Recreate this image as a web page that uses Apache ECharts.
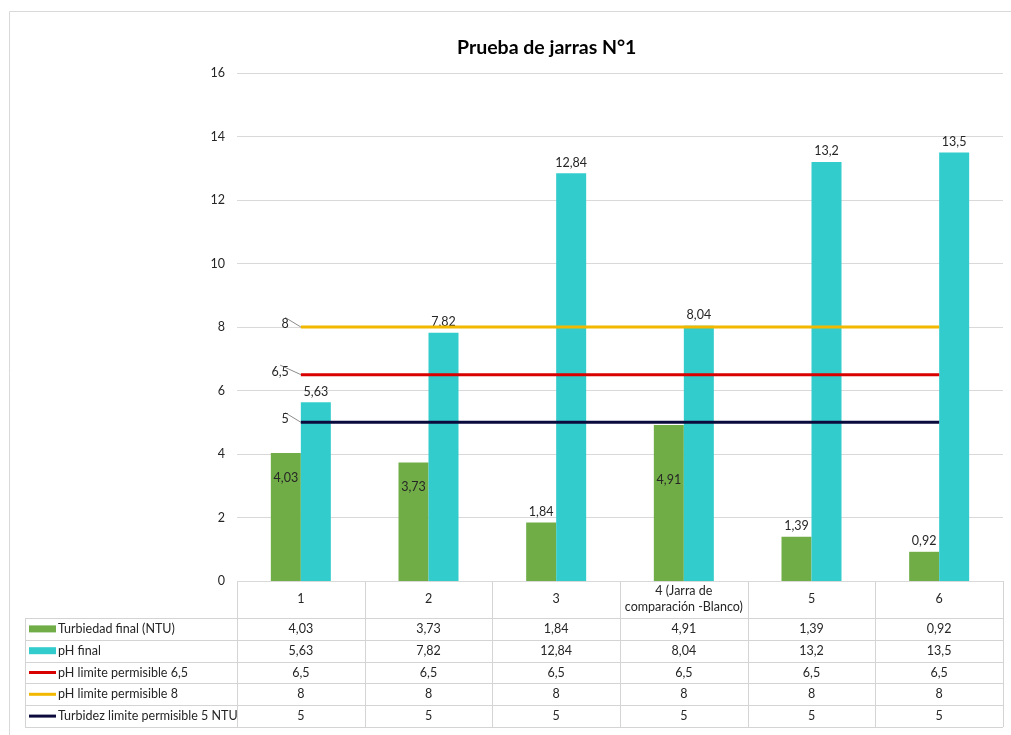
<!DOCTYPE html>
<html><head><meta charset="utf-8">
<script src="https://cdn.jsdelivr.net/npm/echarts@6/dist/echarts.min.js"></script>
<style>html,body{margin:0;padding:0;background:#fff}#c{width:1011px;height:735px}</style>
</head><body><div id="c"></div>
<script>
const categories = ['1', '2', '3', '4 (Jarra de\ncomparación -Blanco)', '5', '6'];
const turbiedad = [4.03, 3.73, 1.84, 4.91, 1.39, 0.92];
const phFinal = [5.63, 7.82, 12.84, 8.04, 13.2, 13.5];
const phLim65 = [6.5, 6.5, 6.5, 6.5, 6.5, 6.5];
const phLim8 = [8, 8, 8, 8, 8, 8];
const turbLim5 = [5, 5, 5, 5, 5, 5];
const seriesNames = ['Turbiedad final (NTU)', 'pH final', 'pH limite permisible 6,5', 'pH limite permisible 8', 'Turbidez limite permisible 5 NTU'];
const yTicks = { min: 0, max: 16, interval: 2 };

const FONT = 'Lato';
const TXT = '#262626';
const colors = ['#70AD47', '#33CCCC', '#D90000', '#F2B800', '#0A0A3C'];
const fmt = v => String(v).replace('.', ',');

const W = 1011, H = 735;
const G = { left: 237, right: 8, top: 73, bottom: 154 };
const plotBottom = H - G.bottom;
const headerH = 37, rowH = 21.8, tableLeft = 25;

const turbLabelPos = [
  { position: 'insideTop', distance: 18 },
  { position: 'insideTop', distance: 18 },
  { position: 'top', distance: 4 },
  { position: 'insideTop', distance: 48 },
  { position: 'top', distance: 4 },
  { position: 'top', distance: 4 }
];

const chart = echarts.init(document.getElementById('c'));

function lineSeries(name, data, color) {
  return {
    name, type: 'line', symbol: 'circle', symbolSize: 0, showSymbol: true,
    data: data.map((v, i) => i === 0 ? {
      value: v,
      label: { show: true, position: 'left', distance: 12, formatter: p => fmt(p.value), color: TXT, fontFamily: FONT, fontSize: 12.5 }
    } : v),
    labelLine: { show: true, lineStyle: { color: '#8C8C8C', width: 1 }, length2: 0 },
    labelLayout: { dy: -3 },
    lineStyle: { color, width: 3 }, itemStyle: { color }, z: 5
  };
}

const allData = [turbiedad, phFinal, phLim65, phLim8, turbLim5];
const graphics = [];
const colW = (W - G.left - G.right) / categories.length;
const x0 = G.left, x1 = W - G.right;
const lineC = '#D4D4D4';
const tableTop = plotBottom + headerH;
const tableBottom = tableTop + rowH * allData.length;
graphics.push({ type: 'rect', shape: { x: 9.5, y: 11.5, width: W - 8, height: H }, style: { fill: 'none', stroke: '#D9D9D9', lineWidth: 1 }, silent: true });
for (let i = 0; i <= categories.length; i++) {
  const x = Math.round(x0 + i * colW) + 0.5;
  graphics.push({ type: 'line', shape: { x1: x, y1: plotBottom, x2: x, y2: tableBottom }, style: { stroke: lineC, lineWidth: 1 } });
}
graphics.push({ type: 'line', shape: { x1: tableLeft + 0.5, y1: tableTop, x2: tableLeft + 0.5, y2: tableBottom }, style: { stroke: lineC, lineWidth: 1 } });
for (let r = 0; r <= allData.length; r++) {
  const y = Math.round(tableTop + r * rowH) + 0.5;
  graphics.push({ type: 'line', shape: { x1: tableLeft, y1: y, x2: x1, y2: y }, style: { stroke: lineC, lineWidth: 1 } });
}
allData.forEach((arr, r) => {
  const cy = tableTop + r * rowH + rowH / 2;
  if (r < 2) {
    graphics.push({ type: 'rect', shape: { x: tableLeft + 4, y: cy - 3.5, width: 27, height: 7 }, style: { fill: colors[r] } });
  } else {
    graphics.push({ type: 'line', shape: { x1: tableLeft + 4, y1: cy, x2: tableLeft + 31, y2: cy }, style: { stroke: colors[r], lineWidth: 3 } });
  }
  graphics.push({ type: 'text', style: { x: tableLeft + 33, y: cy, text: seriesNames[r], fill: TXT, font: '12.5px ' + FONT, verticalAlign: 'middle', align: 'left' } });
  arr.forEach((v, i) => {
    graphics.push({ type: 'text', style: { x: x0 + (i + 0.5) * colW, y: cy, text: fmt(v), fill: TXT, font: '12.5px ' + FONT, verticalAlign: 'middle', align: 'center' } });
  });
});

chart.setOption({
  animation: false,
  backgroundColor: '#fff',
  title: { text: 'Prueba de jarras N°1', left: 452, top: 33, textStyle: { fontFamily: FONT, fontWeight: 'bold', fontSize: 19.5, color: '#000' } },
  legend: { show: false },
  grid: G,
  xAxis: {
    type: 'category', data: categories, boundaryGap: true,
    axisLine: { show: false }, axisTick: { show: false },
    axisLabel: { margin: 18, verticalAlign: 'middle', color: TXT, fontFamily: FONT, fontSize: 12.5, lineHeight: 16, interval: 0 }
  },
  yAxis: {
    type: 'value', min: yTicks.min, max: yTicks.max, interval: yTicks.interval,
    axisLine: { show: false }, axisTick: { show: false },
    axisLabel: { margin: 12, color: TXT, fontFamily: FONT, fontSize: 12.5 },
    splitLine: { lineStyle: { color: '#D9D9D9', width: 1 } }
  },
  series: [
    {
      name: seriesNames[0], type: 'bar', barWidth: '23.5%', barGap: '0%',
      itemStyle: { color: colors[0] },
      data: turbiedad.map((v, i) => ({ value: v, label: Object.assign({ show: true, formatter: p => fmt(p.value), color: TXT, fontFamily: FONT, fontSize: 12.5 }, turbLabelPos[i]) })),
      z: 2
    },
    {
      name: seriesNames[1], type: 'bar', barWidth: '23.5%', barGap: '0%',
      itemStyle: { color: colors[1] },
      label: { show: true, position: 'top', distance: 4, formatter: p => fmt(p.value), color: TXT, fontFamily: FONT, fontSize: 12.5 },
      data: phFinal, z: 2
    },
    lineSeries(seriesNames[2], phLim65, colors[2]),
    lineSeries(seriesNames[3], phLim8, colors[3]),
    lineSeries(seriesNames[4], turbLim5, colors[4])
  ],
  graphic: graphics
});
</script>
</body></html>
